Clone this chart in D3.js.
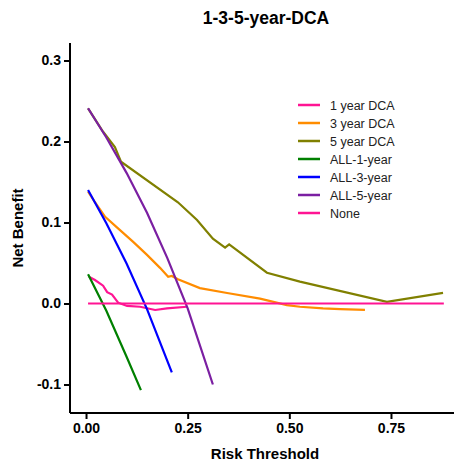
<html>
<head>
  <meta charset="UTF-8">
  <title>1-3-5-year-DCA</title>
  <script src="https://cdn.jsdelivr.net/npm/d3@7"></script>
  <style>
    body { margin: 0; background: #fff; }
    text { font-family: Arial, "Liberation Sans", sans-serif; }
  </style>
</head>
<body>
  <div id="chart"></div>
  <script>
  // ---------------------------------------------------
  // data
  // ---------------------------------------------------
  var dca1 = [[0.007, 0.033], [0.022, 0.029], [0.042, 0.022], [0.052, 0.014], [0.064, 0.011],
    [0.079, 0.001], [0.101, -0.003], [0.133, -0.004], [0.170, -0.008], [0.199, -0.006], [0.248, -0.004]];
  var dca3 = [[0.005, 0.138], [0.022, 0.125], [0.047, 0.107], [0.076, 0.094], [0.116, 0.076],
    [0.150, 0.060], [0.182, 0.044], [0.202, 0.033], [0.211, 0.034], [0.226, 0.030], [0.280, 0.019],
    [0.347, 0.013], [0.428, 0.006], [0.494, -0.002], [0.526, -0.004], [0.583, -0.006],
    [0.625, -0.007], [0.686, -0.008]];
  var dca5 = [[0.005, 0.241], [0.042, 0.212], [0.071, 0.193], [0.086, 0.175], [0.226, 0.125],
    [0.273, 0.103], [0.312, 0.080], [0.342, 0.069], [0.352, 0.073], [0.445, 0.038],
    [0.526, 0.027], [0.740, 0.002], [0.878, 0.013]];
  var all1 = [[0.005, 0.036], [0.05, -0.009], [0.10, -0.066], [0.135, -0.107]];
  var all3 = [[0.005, 0.140], [0.05, 0.099], [0.10, 0.049], [0.15, -0.007], [0.211, -0.085]];
  var all5 = [[0.005, 0.241], [0.05, 0.205], [0.10, 0.161], [0.15, 0.112], [0.20, 0.056],
    [0.25, -0.006], [0.312, -0.100]];
  var none = [[0.005, 0], [0.88, 0]];

  var seriesNames = ["1 year DCA", "3 year DCA", "5 year DCA", "ALL-1-year", "ALL-3-year", "ALL-5-year", "None"];
  var seriesColors = ["#FF1493", "#FF8C00", "#808000", "#008000", "#0000FF", "#7B1FA2", "#FF1493"];
  var seriesData = [dca1, dca3, dca5, all1, all3, all5, none];

  var xTicks = [0, 0.25, 0.5, 0.75];
  var yTicks = [-0.1, 0, 0.1, 0.2, 0.3];

  // ---------------------------------------------------
  // chart
  // ---------------------------------------------------
  var width = 454, height = 464;
  var svg = d3.select("#chart").append("svg")
    .attr("width", width)
    .attr("height", height);

  var x = d3.scaleLinear().domain([-0.0394, 0.905]).range([70, 454]);
  var y = d3.scaleLinear().domain([-0.1352, 0.3216]).range([413, 43]);

  // lines
  var line = d3.line()
    .x(function (d) { return x(d[0]); })
    .y(function (d) { return y(d[1]); });

  svg.selectAll(".series")
    .data(seriesData)
    .enter()
    .append("path")
    .attr("class", "series")
    .attr("d", line)
    .attr("fill", "none")
    .attr("stroke", function (d, i) { return seriesColors[i]; })
    .attr("stroke-width", 2.2);

  // axes
  var xAxis = svg.append("g")
    .attr("transform", "translate(0,413)")
    .call(d3.axisBottom(x).tickValues(xTicks).tickFormat(d3.format(".2f")).tickSize(6).tickPadding(4));
  var yAxis = svg.append("g")
    .attr("transform", "translate(70,0)")
    .call(d3.axisLeft(y).tickValues(yTicks).tickFormat(d3.format(".1f")).tickSize(6).tickPadding(3));

  [xAxis, yAxis].forEach(function (a) {
    a.select(".domain").attr("stroke", "#000").attr("stroke-width", 2);
    a.selectAll(".tick line").attr("stroke", "#000").attr("stroke-width", 2);
    a.selectAll(".tick text")
      .attr("fill", "#000")
      .style("font-size", "14px")
      .style("font-weight", "bold")
      .style("font-family", "Arial, 'Liberation Sans', sans-serif");
  });
  xAxis.select(".domain").attr("d", "M70,0H454");
  yAxis.select(".domain").attr("d", "M0,43V413");
  yAxis.selectAll(".tick text").text(function (d) { return d3.format(".1f")(d).replace("−", "-"); });

  // titles
  svg.append("text")
    .attr("x", 266).attr("y", 24)
    .attr("text-anchor", "middle")
    .style("font-size", "17.5px").style("font-weight", "bold")
    .text("1-3-5-year-DCA");

  svg.append("text")
    .attr("x", 265).attr("y", 459)
    .attr("text-anchor", "middle")
    .style("font-size", "15px").style("font-weight", "bold")
    .text("Risk Threshold");

  svg.append("text")
    .attr("transform", "translate(23,228) rotate(-90)")
    .attr("text-anchor", "middle")
    .style("font-size", "15px").style("font-weight", "bold")
    .text("Net Benefit");

  // legend
  var legend = svg.selectAll(".legend")
    .data(seriesNames)
    .enter()
    .append("g")
    .attr("class", "legend")
    .attr("transform", function (d, i) { return "translate(298," + (105 + i * 18) + ")"; });

  legend.append("line")
    .attr("x1", 0).attr("x2", 22)
    .attr("stroke", function (d, i) { return seriesColors[i]; })
    .attr("stroke-width", 2.5);

  legend.append("text")
    .attr("x", 32).attr("y", 4.5)
    .attr("fill", "#222")
    .style("font-size", "12.5px")
    .text(function (d) { return d; });
  </script>
</body>
</html>
